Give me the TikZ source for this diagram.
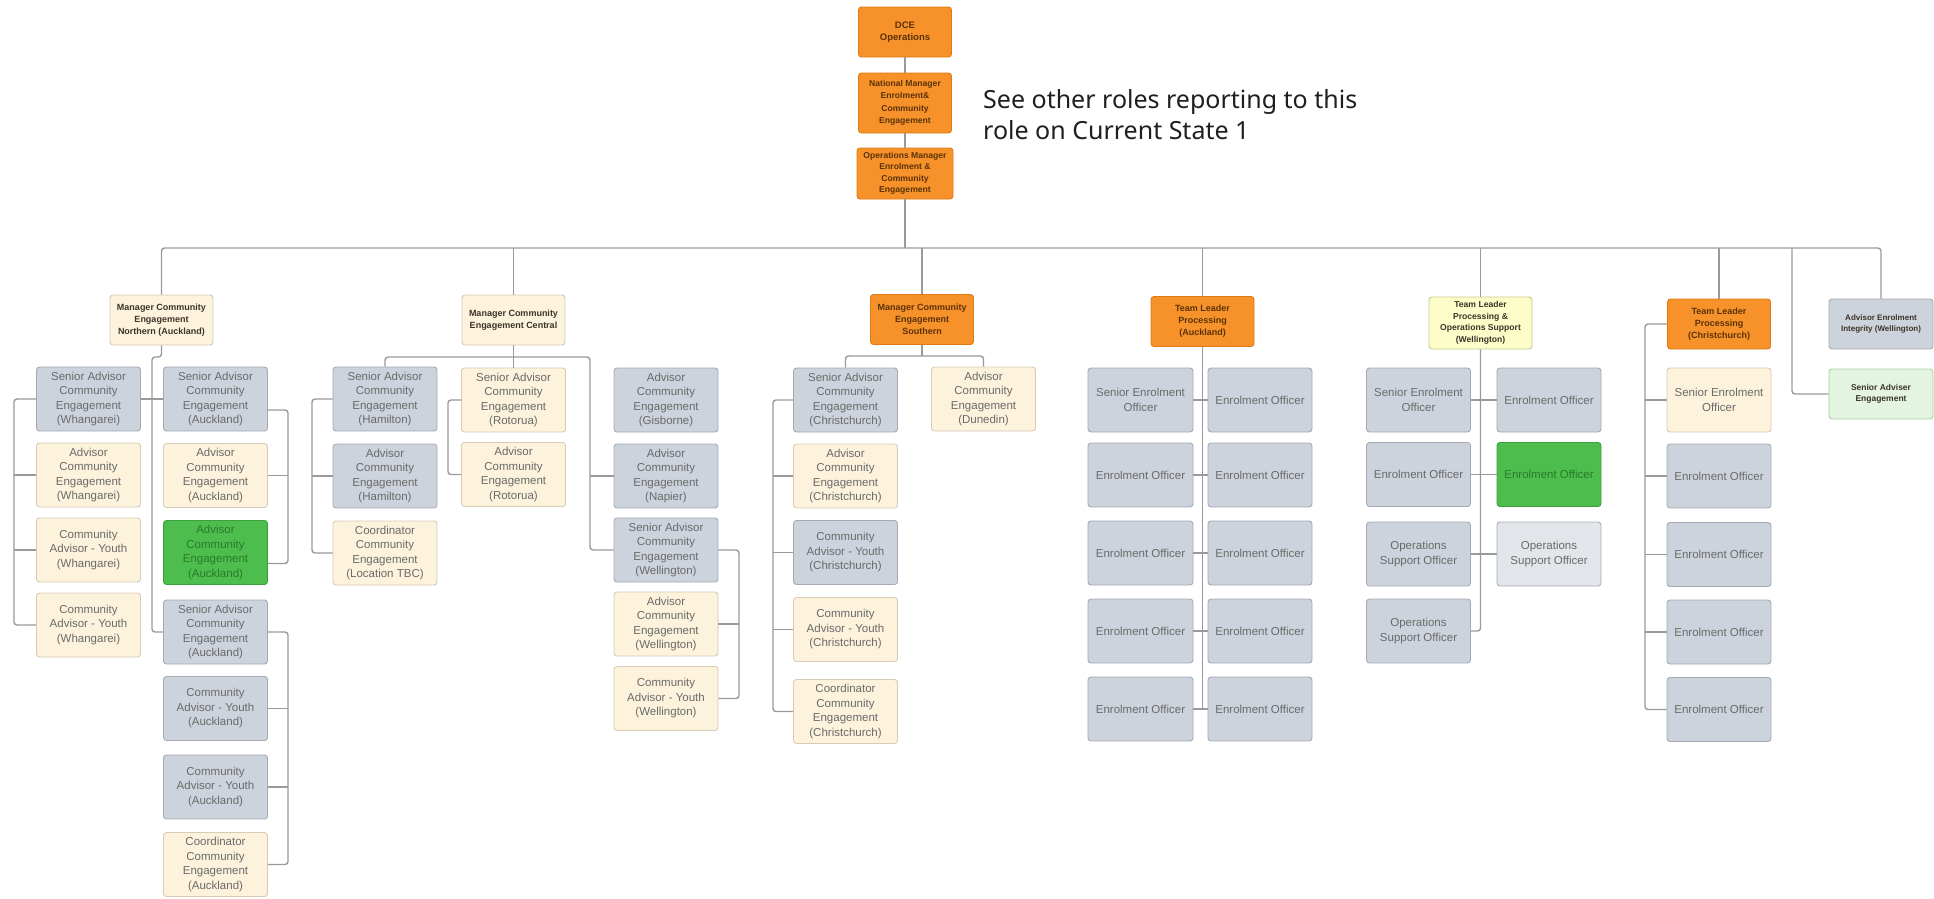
\documentclass[tikz,border=0pt]{standalone}
\usepackage{fontspec}
\setmainfont{Liberation Sans}
\newfontfamily\notefont{Noto Sans}

% fills and outlines of the role boxes
\definecolor{orfill}{HTML}{F7922A}
\definecolor{orline}{HTML}{DE7A12}
\definecolor{crfill}{HTML}{FDF3DD}
\definecolor{crline}{HTML}{D6CCB6}
\definecolor{gyfill}{HTML}{CDD3DC}
\definecolor{gyline}{HTML}{A3AAB4}
\definecolor{gnfill}{HTML}{4DBE4D}
\definecolor{gnline}{HTML}{3BA03B}
\definecolor{gntext}{HTML}{2A7A2A}
\definecolor{ylfill}{HTML}{FDFDC9}
\definecolor{ylline}{HTML}{C9C88E}
\definecolor{lgfill}{HTML}{E3F5E1}
\definecolor{lgline}{HTML}{A9CFA6}
\definecolor{lyfill}{HTML}{E2E5EA}
\definecolor{lyline}{HTML}{A8AEB6}
\definecolor{wire}{HTML}{9A9A9A}
\definecolor{bodytext}{HTML}{6A6A6A}
\definecolor{headtext}{HTML}{3C3427}
\definecolor{ortext}{HTML}{5A3208}

\begin{document}
\begin{tikzpicture}[x=1pt,y=-1pt,
  role/.style={draw, rounded corners=3pt, line width=0.9pt, minimum width=104pt,
    minimum height=64pt, inner sep=1pt, align=center, text=bodytext,
    font={\fontsize{11.5}{14.5}\selectfont}},
  gbox/.style={role, fill=gyfill, draw=gyline},
  cbox/.style={role, fill=crfill, draw=crline},
  grbox/.style={role, fill=gnfill, draw=gnline, text=gntext},
  lybox/.style={role, fill=lyfill, draw=lyline},
  head/.style={draw, rounded corners=3pt, line width=0.9pt, minimum width=103pt,
    minimum height=50pt, inner sep=1pt, align=center, text=headtext,
    font={\bfseries\fontsize{9}{12}\selectfont}},
  hor/.style={head, fill=orfill, draw=orline, text=ortext},
  hcr/.style={head, fill=crfill, draw=crline},
  hyl/.style={head, fill=ylfill, draw=ylline},
  hgy/.style={head, fill=gyfill, draw=gyline, font={\bfseries\fontsize{8}{11.5}\selectfont}},
  hlg/.style={head, fill=lgfill, draw=lgline, font={\bfseries\fontsize{8.5}{11.5}\selectfont}},
  conn/.style={draw=wire, line width=1.4pt, rounded corners=3pt}]

\fill[white] (0,0) rectangle (1934,898);
\useasboundingbox (0,0) rectangle (1934,898);

% ---------- top of the chain ----------
\node[hor, minimum width=93pt, minimum height=50pt, font={\bfseries\fontsize{9.5}{12.5}\selectfont}]
  (dce) at (905,32) {DCE\\Operations};
\node[hor, minimum width=93pt, minimum height=60pt, font={\bfseries\fontsize{8.6}{12.5}\selectfont}]
  (nat) at (905,103) {National Manager\\Enrolment\&\\Community\\Engagement};
\node[hor, minimum width=96pt, minimum height=51pt, font={\bfseries\fontsize{8.6}{11.5}\selectfont}]
  (opsm) at (905,173.5) {Operations Manager\\Enrolment \&\\Community\\Engagement};

% the last line's baseline is the node's base
\node[anchor=base west, inner sep=0pt, align=left, text=black!88,
  font={\notefont\fontsize{25}{31}\selectfont}] (note) at (983,139)
  {See other roles reporting to this\\role on Current State 1};

% ---------- managers and team leaders ----------
\node[hcr] (nor) at (161.5,320) {Manager Community\\Engagement\\Northern (Auckland)};
\node[hcr] (cen) at (513.5,320) {Manager Community\\Engagement Central};
\node[hor] (sth) at (922,319.5) {Manager Community\\Engagement\\Southern};
\node[hor] (tla) at (1202.5,321.5) {Team Leader\\Processing\\(Auckland)};
\node[hyl, minimum height=52pt, font={\bfseries\fontsize{8.6}{11.5}\selectfont}]
  (tlw) at (1480.5,323) {Team Leader\\Processing \&\\Operations Support\\(Wellington)};
\node[hor] (tlc) at (1719,324) {Team Leader\\Processing\\(Christchurch)};
\node[hgy, minimum width=104pt] (aei) at (1881,324) {Advisor Enrolment\\Integrity (Wellington)};
\node[hlg, minimum width=104pt] (sae) at (1881,394) {Senior Adviser\\Engagement};

% ---------- Northern: Whangarei ----------
\node[gbox] (w1) at (88.5,399) {Senior Advisor\\Community\\Engagement\\(Whangarei)};
\node[cbox] (w2) at (88.5,475) {Advisor\\Community\\Engagement\\(Whangarei)};
\node[cbox] (w3) at (88.5,550) {Community\\Advisor - Youth\\(Whangarei)};
\node[cbox] (w4) at (88.5,625) {Community\\Advisor - Youth\\(Whangarei)};

% ---------- Northern: Auckland ----------
\node[gbox] (a1) at (215.5,399) {Senior Advisor\\Community\\Engagement\\(Auckland)};
\node[cbox] (a2) at (215.5,475.5) {Advisor\\Community\\Engagement\\(Auckland)};
\node[grbox] (a3) at (215.5,552.5) {Advisor\\Community\\Engagement\\(Auckland)};
\node[gbox] (a4) at (215.5,632) {Senior Advisor\\Community\\Engagement\\(Auckland)};
\node[gbox] (a5) at (215.5,708.5) {Community\\Advisor - Youth\\(Auckland)};
\node[gbox] (a6) at (215.5,787) {Community\\Advisor - Youth\\(Auckland)};
\node[cbox] (a7) at (215.5,864.5) {Coordinator\\Community\\Engagement\\(Auckland)};

% ---------- Central ----------
\node[gbox] (h1) at (385,399) {Senior Advisor\\Community\\Engagement\\(Hamilton)};
\node[gbox] (h2) at (385,476) {Advisor\\Community\\Engagement\\(Hamilton)};
\node[cbox] (h3) at (385,553) {Coordinator\\Community\\Engagement\\(Location TBC)};
\node[cbox] (r1) at (513.5,400) {Senior Advisor\\Community\\Engagement\\(Rotorua)};
\node[cbox] (r2) at (513.5,474.5) {Advisor\\Community\\Engagement\\(Rotorua)};
\node[gbox] (g1) at (666,400) {Advisor\\Community\\Engagement\\(Gisborne)};
\node[gbox] (g2) at (666,476) {Advisor\\Community\\Engagement\\(Napier)};
\node[gbox] (g3) at (666,550) {Senior Advisor\\Community\\Engagement\\(Wellington)};
\node[cbox] (g4) at (666,624) {Advisor\\Community\\Engagement\\(Wellington)};
\node[cbox] (g5) at (666,698.5) {Community\\Advisor - Youth\\(Wellington)};

% ---------- Southern ----------
\node[gbox] (c1) at (845.5,400) {Senior Advisor\\Community\\Engagement\\(Christchurch)};
\node[cbox] (c2) at (845.5,476) {Advisor\\Community\\Engagement\\(Christchurch)};
\node[gbox] (c3) at (845.5,552.5) {Community\\Advisor - Youth\\(Christchurch)};
\node[cbox] (c4) at (845.5,629.5) {Community\\Advisor - Youth\\(Christchurch)};
\node[cbox] (c5) at (845.5,711.5) {Coordinator\\Community\\Engagement\\(Christchurch)};
\node[cbox] (dun) at (983.5,399) {Advisor\\Community\\Engagement\\(Dunedin)};

% ---------- Processing, Auckland ----------
\node[gbox, minimum width=105pt] (e1l) at (1140.5,400) {Senior Enrolment\\Officer};
\node[gbox, minimum width=105pt] (e2l) at (1140.5,475) {Enrolment Officer};
\node[gbox, minimum width=105pt] (e3l) at (1140.5,553) {Enrolment Officer};
\node[gbox, minimum width=105pt] (e4l) at (1140.5,631) {Enrolment Officer};
\node[gbox, minimum width=105pt] (e5l) at (1140.5,709) {Enrolment Officer};
\node[gbox] (e1r) at (1260,400) {Enrolment Officer};
\node[gbox] (e2r) at (1260,475) {Enrolment Officer};
\node[gbox] (e3r) at (1260,553) {Enrolment Officer};
\node[gbox] (e4r) at (1260,631) {Enrolment Officer};
\node[gbox] (e5r) at (1260,709) {Enrolment Officer};

% ---------- Processing & Operations Support, Wellington ----------
\node[gbox] (o1l) at (1418.5,400) {Senior Enrolment\\Officer};
\node[gbox] (o2l) at (1418.5,474.5) {Enrolment Officer};
\node[gbox] (o3l) at (1418.5,554) {Operations\\Support Officer};
\node[gbox] (o4l) at (1418.5,631) {Operations\\Support Officer};
\node[gbox] (o1r) at (1549,400) {Enrolment Officer};
\node[grbox] (o2r) at (1549,474.5) {Enrolment Officer};
\node[lybox] (o3r) at (1549,554) {Operations\\Support Officer};

% ---------- Processing, Christchurch ----------
\node[cbox] (k1) at (1719,400) {Senior Enrolment\\Officer};
\node[gbox] (k2) at (1719,476) {Enrolment Officer};
\node[gbox] (k3) at (1719,554.5) {Enrolment Officer};
\node[gbox] (k4) at (1719,632) {Enrolment Officer};
\node[gbox] (k5) at (1719,709.5) {Enrolment Officer};

% ---------- junction points ----------
\coordinate (bus) at (905,248);
\coordinate (saej) at (1792,248);
\coordinate (nj) at (152,357);
\coordinate (wx) at (14,0);
\coordinate (ax) at (288,0);
\coordinate (cj) at (513.5,357);
\coordinate (cx) at (590,0);
\coordinate (hx) at (312,0);
\coordinate (rx) at (448,0);
\coordinate (gx) at (739,0);
\coordinate (sj) at (922,356);
\coordinate (chx) at (773,0);
\coordinate (tx) at (1645,0);

% ---------- connectors ----------
\draw[conn] (dce) -- (nat);
\draw[conn] (nat) -- (opsm);
\draw[conn] (opsm) -- (bus);
\draw[conn] (nor) |- (bus) -| (aei);
\draw[conn] (cen) -- (cen |- bus);
\draw[conn] (sth) -- (sth |- bus);
\draw[conn] (tla) -- (tla |- bus);
\draw[conn] (tlw) -- (tlw |- bus);
\draw[conn] (tlc) -- (tlc |- bus);
\draw[conn] (saej) |- (sae);

% Northern
\draw[conn] (nor) |- (nj) |- (a4);
\draw[conn] (w1.east) -- (w1.east -| a1.west);
\draw[conn] (w1.west) -| (wx |- w4.west) -- (w4.west);
\draw[conn] (w2.west) -- (w2.west -| wx);
\draw[conn] (w3.west) -- (w3.west -| wx);
\draw[conn] ([yshift=-11pt]a1.east) -| (ax |- a2.east) |- ([yshift=-11pt]a3.east);
\draw[conn] (a2.east) -- (a2.east -| ax);
\draw[conn] (a4.east) -| (ax |- a5.east) |- (a7.east);
\draw[conn] (a5.east) -- (a5.east -| ax);
\draw[conn] (a6.east) -- (a6.east -| ax);

% Central
\draw[conn] (h1) |- (cj) -| (cx |- g3.west) -- (g3.west);
\draw[conn] (cen) -- (r1);
\draw[conn] (g2.west) -- (g2.west -| cx);
\draw[conn] (h1.west) -| (hx |- h3.west) -- (h3.west);
\draw[conn] (h2.west) -- (h2.west -| hx);
\draw[conn] (r1.west) -| (rx |- r2.west) -- (r2.west);
\draw[conn] (g3.east) -| (gx |- g5.east) -- (g5.east);
\draw[conn] (g4.east) -- (g4.east -| gx);

% Southern
\draw[conn] (sth) -- (sj);
\draw[conn] (c1) |- (sj) -| (dun);
\draw[conn] (c1.west) -| (chx |- c5.west) -- (c5.west);
\draw[conn] (c2.west) -- (c2.west -| chx);
\draw[conn] (c3.west) -- (c3.west -| chx);
\draw[conn] (c4.west) -- (c4.west -| chx);

% Processing, Auckland
\draw[conn] (tla) -- (tla |- e5l.east);
\draw[conn] (e1l) -- (e1r);
\draw[conn] (e2l) -- (e2r);
\draw[conn] (e3l) -- (e3r);
\draw[conn] (e4l) -- (e4r);
\draw[conn] (e5l) -- (e5r);

% Processing & Operations Support, Wellington
\draw[conn] (tlw) |- (o4l);
\draw[conn] (o1l) -- (o1r);
\draw[conn] (o2l) -- (o2r);
\draw[conn] (o3l) -- (o3r);

% Processing, Christchurch
\draw[conn] (tlc.west) -| (tx |- k5.west) -- (k5.west);
\draw[conn] (k1.west) -- (k1.west -| tx);
\draw[conn] (k2.west) -- (k2.west -| tx);
\draw[conn] (k3.west) -- (k3.west -| tx);
\draw[conn] (k4.west) -- (k4.west -| tx);

\end{tikzpicture}
\end{document}
